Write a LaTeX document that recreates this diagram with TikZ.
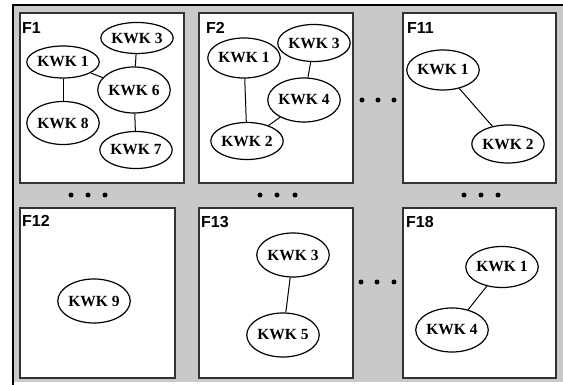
\documentclass[tikz,border=0pt]{standalone}
\usepackage{fontspec}
\setmainfont{Liberation Serif}
\setsansfont{Liberation Sans}
\usetikzlibrary{shapes.geometric}

\begin{document}
\begin{tikzpicture}[x=1pt,y=-1pt,
  kwk/.style={ellipse,draw,line width=1.2pt,fill=white,inner sep=0pt,
    minimum width=66pt,minimum height=42pt,font=\bfseries\fontsize{15.5}{15.5}\selectfont},
  frame/.style={draw=black!80,line width=1.5pt,fill=white},
  flabel/.style={anchor=north west,inner sep=0pt,font=\sffamily\bfseries\fontsize{16}{16}\selectfont}]

\useasboundingbox (0,0) rectangle (563,385);

%% Background
\fill[black!21] (13,5) rectangle (563,382);
\draw[line width=2pt] (13,385) -- (13,5) -- (563,5);

%% Frames
\draw[frame] (20,13) rectangle (184,183);
\draw[frame] (199,13) rectangle (353,183);
\draw[frame] (403,13) rectangle (556,183);
\draw[frame] (20,208) rectangle (175,378);
\draw[frame] (199,208) rectangle (353,378);
\draw[frame] (403,208) rectangle (556,378);

\node[flabel] (lf1) at (22,22) {F1};
\node[flabel] (lf2) at (206,22) {F2};
\node[flabel] (lf11) at (407,22) {F11};
\node[flabel] (lf12) at (22,215) {F12};
\node[flabel] (lf13) at (201,216) {F13};
\node[flabel] (lf18) at (406,216) {F18};

%% Dots
\fill (71,195) circle (2.5) (88,195) circle (2.5) (105,195) circle (2.5);
\fill (260,195) circle (2.5) (277,195) circle (2.5) (295,195) circle (2.5);
\fill (464,195) circle (2.5) (481,195) circle (2.5) (498,195) circle (2.5);
\fill (362,100) circle (2.5) (378,100) circle (2.5) (394,100) circle (2.5);
\fill (361,282) circle (2.5) (377,282) circle (2.5) (394,282) circle (2.5);

%% F1
\node[kwk,minimum width=63pt,minimum height=32pt] (a1) at (63,62) {KWK 1};
\node[kwk,minimum width=67pt,minimum height=31pt] (a3) at (137,38) {KWK 3};
\node[kwk,minimum width=68pt,minimum height=46pt] (a6) at (134,90) {KWK 6};
\node[kwk,minimum width=67pt,minimum height=43pt] (a8) at (63,123) {KWK 8};
\node[kwk,minimum width=68pt,minimum height=37pt] (a7) at (136,150) {KWK 7};
\draw[line width=1pt] (a1) -- (a8);
\draw[line width=1pt] (a1) -- (a6);
\draw[line width=1pt] (a3) -- (a6);
\draw[line width=1pt] (a6) -- (a7);

%% F2
\node[kwk,minimum height=40pt] (b1) at (244,58) {KWK 1};
\node[kwk,minimum width=67pt,minimum height=37pt] (b3) at (314,43) {KWK 3};
\node[kwk,minimum width=65pt,minimum height=44pt] (b4) at (304,100) {KWK 4};
\node[kwk,minimum width=69pt,minimum height=37pt] (b2) at (247,141) {KWK 2};
\draw[line width=1pt] (b1) -- (b2);
\draw[line width=1pt] (b3) -- (b4);
\draw[line width=1pt] (b4) -- (b2);

%% F11
\node[kwk,minimum width=67pt,minimum height=40pt] (c1) at (443,70) {KWK 1};
\node[kwk,minimum width=67pt,minimum height=38pt] (c2) at (508,144) {KWK 2};
\draw[line width=1pt] (c1) -- (c2);

%% F12
\node[kwk,minimum height=44pt] (d9) at (94,301) {KWK 9};

%% F13
\node[kwk,minimum width=67pt,minimum height=44pt] (e3) at (293,255) {KWK 3};
\node[kwk,minimum width=68pt,minimum height=44pt] (e5) at (283,335) {KWK 5};
\draw[line width=1pt] (e3) -- (e5);

%% F18
\node[kwk,minimum width=60pt,minimum height=41pt] (f1) at (502,267) {KWK 1};
\node[kwk,minimum width=67pt,minimum height=44pt] (f4) at (452,330) {KWK 4};
\draw[line width=1pt] (f1) -- (f4);

\end{tikzpicture}
\end{document}
